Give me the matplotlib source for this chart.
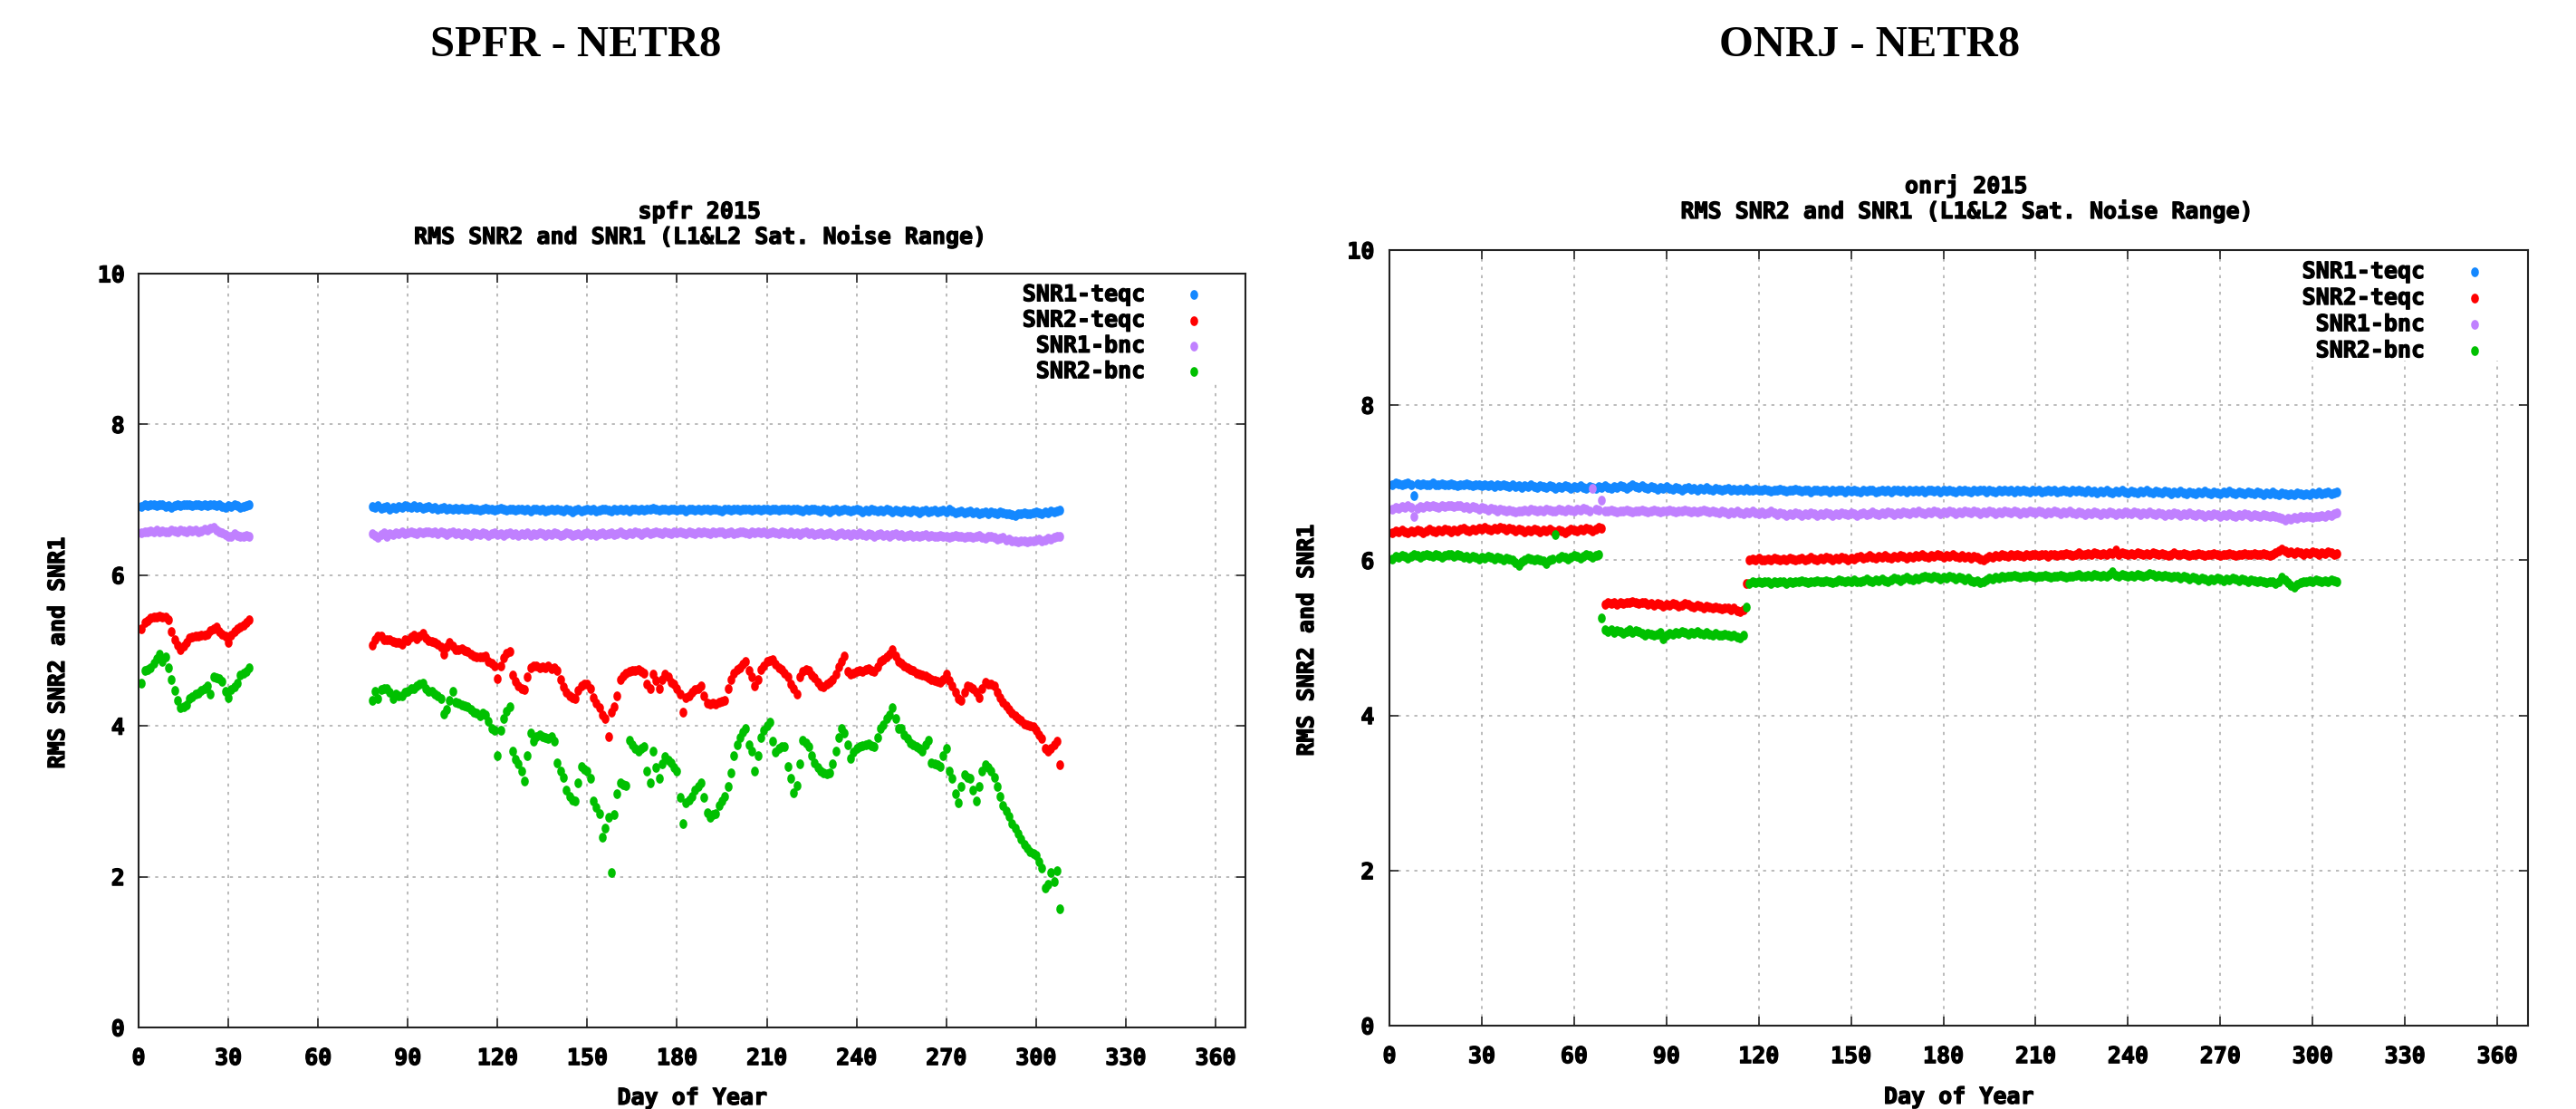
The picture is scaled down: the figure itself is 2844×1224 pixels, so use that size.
import numpy as np
import matplotlib
matplotlib.use("Agg")
import matplotlib.pyplot as plt
from matplotlib.patches import Rectangle
from matplotlib import patheffects

W, H, DPI = 2844, 1224, 100

SERIES = ["SNR1-teqc", "SNR2-teqc", "SNR1-bnc", "SNR2-bnc"]
COLORS = ["#1488ff", "#ff0000", "#c080ff", "#00c000"]
X_TICKS = list(range(0, 361, 30))
Y_TICKS = list(range(0, 11, 2))

# ---------------- SPFR 2015: two observing blocks ----------------
SPFR_START_A = 1
SPFR_START_B = 78

spfr_snr1_teqc_a = [6.91, 6.93, 6.92, 6.94, 6.93, 6.92, 6.94, 6.93, 6.91, 6.92,
                    6.90, 6.92, 6.93, 6.92, 6.93, 6.94, 6.93, 6.92, 6.93, 6.94,
                    6.92, 6.93, 6.92, 6.93, 6.94, 6.92, 6.93, 6.91, 6.90, 6.92,
                    6.91, 6.93, 6.92, 6.90, 6.91, 6.92, 6.93]
spfr_snr2_teqc_a = [5.29, 5.37, 5.40, 5.43, 5.44, 5.45, 5.46, 5.45, 5.44, 5.41,
                    5.25, 5.15, 5.07, 5.01, 5.06, 5.11, 5.17, 5.18, 5.19, 5.19,
                    5.20, 5.21, 5.22, 5.26, 5.29, 5.31, 5.25, 5.22, 5.19, 5.11,
                    5.21, 5.25, 5.29, 5.31, 5.34, 5.37, 5.41]
spfr_snr1_bnc_a = [6.56, 6.58, 6.57, 6.59, 6.58, 6.60, 6.58, 6.59, 6.57, 6.58,
                   6.60, 6.59, 6.58, 6.60, 6.59, 6.58, 6.60, 6.59, 6.60, 6.58,
                   6.59, 6.61, 6.60, 6.62, 6.63, 6.60, 6.58, 6.56, 6.54, 6.51,
                   6.52, 6.55, 6.53, 6.51, 6.52, 6.53, 6.52]
spfr_snr2_bnc_a = [4.57, 4.73, 4.75, 4.77, 4.83, 4.89, 4.95, 4.85, 4.91, 4.77,
                   4.61, 4.47, 4.34, 4.24, 4.26, 4.28, 4.36, 4.39, 4.42, 4.44,
                   4.47, 4.50, 4.53, 4.42, 4.65, 4.64, 4.63, 4.59, 4.46, 4.38,
                   4.48, 4.52, 4.57, 4.67, 4.70, 4.72, 4.77]

spfr_snr1_teqc_b = [6.91, 6.90, 6.92, 6.89, 6.90, 6.91, 6.88, 6.90, 6.89, 6.91,
                    6.90, 6.92, 6.91, 6.90, 6.92, 6.90, 6.91, 6.89, 6.90, 6.91,
                    6.89, 6.90, 6.88, 6.89, 6.90, 6.88, 6.89, 6.87, 6.89, 6.88,
                    6.89, 6.87, 6.88, 6.89, 6.87, 6.88, 6.86, 6.88, 6.89, 6.87,
                    6.88, 6.86, 6.87, 6.89, 6.88, 6.86, 6.87, 6.88, 6.86, 6.87,
                    6.88, 6.86, 6.87, 6.85, 6.87, 6.88, 6.86, 6.87, 6.85, 6.86,
                    6.87, 6.86, 6.88, 6.86, 6.85, 6.87, 6.86, 6.84, 6.86, 6.87,
                    6.85, 6.86, 6.88, 6.86, 6.87, 6.85, 6.86, 6.88, 6.87, 6.86,
                    6.85, 6.87, 6.86, 6.88, 6.86, 6.87, 6.85, 6.87, 6.88, 6.86,
                    6.87, 6.86, 6.88, 6.87, 6.89, 6.87, 6.86, 6.88, 6.87, 6.86,
                    6.88, 6.87, 6.86, 6.88, 6.87, 6.85, 6.87, 6.88, 6.86, 6.87,
                    6.86, 6.88, 6.87, 6.86, 6.87, 6.88, 6.86, 6.85, 6.87, 6.88,
                    6.86, 6.87, 6.88, 6.86, 6.87, 6.88, 6.87, 6.86, 6.88, 6.87,
                    6.86, 6.87, 6.88, 6.86, 6.87, 6.88, 6.86, 6.87, 6.88, 6.87,
                    6.86, 6.88, 6.87, 6.86, 6.85, 6.87, 6.86, 6.88, 6.87, 6.86,
                    6.85, 6.87, 6.86, 6.84, 6.86, 6.87, 6.85, 6.86, 6.87, 6.86,
                    6.85, 6.86, 6.87, 6.86, 6.84, 6.86, 6.85, 6.87, 6.86, 6.85,
                    6.86, 6.85, 6.87, 6.86, 6.84, 6.86, 6.85, 6.84, 6.86, 6.85,
                    6.84, 6.86, 6.85, 6.83, 6.85, 6.86, 6.84, 6.85, 6.86, 6.84,
                    6.85, 6.86, 6.84, 6.87, 6.85, 6.83, 6.84, 6.85, 6.83, 6.84,
                    6.85, 6.83, 6.84, 6.82, 6.83, 6.84, 6.82, 6.84, 6.83, 6.82,
                    6.84, 6.83, 6.81, 6.82, 6.80, 6.79, 6.81, 6.82, 6.83, 6.81,
                    6.82, 6.83, 6.84, 6.83, 6.82, 6.84, 6.83, 6.85, 6.84, 6.85,
                    6.86]
spfr_snr2_teqc_b = [5.07, 5.15, 5.19, 5.19, 5.15, 5.14, 5.15, 5.12, 5.11, 5.11,
                    5.08, 5.15, 5.13, 5.18, 5.20, 5.16, 5.19, 5.23, 5.17, 5.13,
                    5.12, 5.11, 5.09, 5.05, 4.95, 5.05, 5.11, 5.06, 5.01, 5.01,
                    5.03, 5.00, 4.99, 4.95, 4.93, 4.92, 4.91, 4.92, 4.93, 4.86,
                    4.83, 4.79, 4.63, 4.80, 4.90, 4.96, 4.99, 4.68, 4.59, 4.53,
                    4.50, 4.48, 4.65, 4.77, 4.79, 4.79, 4.77, 4.78, 4.77, 4.79,
                    4.76, 4.77, 4.74, 4.61, 4.52, 4.45, 4.40, 4.38, 4.36, 4.47,
                    4.53, 4.55, 4.56, 4.50, 4.37, 4.30, 4.24, 4.15, 4.10, 3.86,
                    4.18, 4.26, 4.40, 4.62, 4.66, 4.70, 4.72, 4.74, 4.73, 4.75,
                    4.72, 4.70, 4.55, 4.50, 4.69, 4.60, 4.50, 4.62, 4.69, 4.65,
                    4.58, 4.55, 4.50, 4.42, 4.18, 4.37, 4.40, 4.45, 4.48, 4.50,
                    4.53, 4.40, 4.30, 4.29, 4.30, 4.29, 4.31, 4.33, 4.34, 4.50,
                    4.62, 4.70, 4.75, 4.77, 4.82, 4.85, 4.73, 4.65, 4.53, 4.62,
                    4.75, 4.80, 4.85, 4.87, 4.88, 4.82, 4.77, 4.75, 4.70, 4.65,
                    4.56, 4.50, 4.42, 4.65, 4.72, 4.75, 4.73, 4.68, 4.64, 4.58,
                    4.53, 4.52, 4.55, 4.58, 4.62, 4.69, 4.78, 4.85, 4.93, 4.72,
                    4.69, 4.70, 4.72, 4.73, 4.72, 4.75, 4.76, 4.73, 4.72, 4.78,
                    4.85, 4.88, 4.91, 4.95, 5.01, 4.93, 4.86, 4.83, 4.80, 4.77,
                    4.75, 4.73, 4.70, 4.69, 4.67, 4.66, 4.64, 4.62, 4.60, 4.59,
                    4.58, 4.62, 4.69, 4.60, 4.53, 4.45, 4.36, 4.34, 4.45, 4.53,
                    4.52, 4.50, 4.45, 4.37, 4.50, 4.58, 4.56, 4.55, 4.53, 4.45,
                    4.38, 4.32, 4.27, 4.22, 4.17, 4.13, 4.10, 4.07, 4.03, 4.02,
                    4.00, 3.99, 3.94, 3.88, 3.83, 3.70, 3.67, 3.70, 3.75, 3.80,
                    3.49]
spfr_snr1_bnc_b = [6.55, 6.53, 6.50, 6.54, 6.56, 6.52, 6.55, 6.54, 6.56, 6.55,
                   6.57, 6.55, 6.56, 6.58, 6.56, 6.55, 6.57, 6.56, 6.58, 6.57,
                   6.56, 6.58, 6.55, 6.57, 6.56, 6.54, 6.56, 6.57, 6.55, 6.56,
                   6.54, 6.56, 6.55, 6.53, 6.56, 6.55, 6.54, 6.56, 6.55, 6.53,
                   6.55, 6.56, 6.54, 6.55, 6.53, 6.55, 6.56, 6.54, 6.55, 6.53,
                   6.55, 6.54, 6.56, 6.53, 6.55, 6.54, 6.56, 6.55, 6.53, 6.55,
                   6.54, 6.56, 6.55, 6.53, 6.54, 6.56, 6.55, 6.53, 6.54, 6.55,
                   6.53, 6.55, 6.56, 6.54, 6.55, 6.53, 6.55, 6.56, 6.54, 6.55,
                   6.56, 6.54, 6.55, 6.57, 6.55, 6.54, 6.56, 6.55, 6.57, 6.56,
                   6.54, 6.56, 6.57, 6.55, 6.56, 6.58, 6.56, 6.55, 6.57, 6.56,
                   6.55, 6.57, 6.56, 6.58, 6.56, 6.55, 6.57, 6.56, 6.55, 6.57,
                   6.56, 6.58, 6.56, 6.55, 6.57, 6.56, 6.58, 6.57, 6.55, 6.56,
                   6.57, 6.55, 6.56, 6.58, 6.57, 6.56, 6.55, 6.57, 6.56, 6.58,
                   6.56, 6.57, 6.55, 6.56, 6.58, 6.56, 6.55, 6.57, 6.56, 6.55,
                   6.57, 6.55, 6.56, 6.54, 6.56, 6.57, 6.55, 6.56, 6.54, 6.55,
                   6.56, 6.54, 6.55, 6.56, 6.54, 6.53, 6.55, 6.56, 6.54, 6.55,
                   6.53, 6.55, 6.54, 6.56, 6.54, 6.53, 6.55, 6.54, 6.52, 6.54,
                   6.55, 6.53, 6.54, 6.52, 6.54, 6.55, 6.53, 6.54, 6.52, 6.53,
                   6.54, 6.52, 6.53, 6.51, 6.53, 6.54, 6.52, 6.53, 6.51, 6.52,
                   6.53, 6.51, 6.52, 6.50, 6.52, 6.53, 6.51, 6.52, 6.50, 6.51,
                   6.52, 6.50, 6.51, 6.53, 6.50, 6.49, 6.51, 6.52, 6.50, 6.48,
                   6.49, 6.50, 6.47, 6.48, 6.46, 6.45, 6.44, 6.46, 6.45, 6.44,
                   6.46, 6.45, 6.47, 6.48, 6.46, 6.47, 6.49, 6.48, 6.50, 6.51,
                   6.52]
spfr_snr2_bnc_b = [4.34, 4.46, 4.36, 4.48, 4.50, 4.50, 4.45, 4.36, 4.42, 4.40,
                   4.40, 4.45, 4.46, 4.49, 4.50, 4.53, 4.56, 4.57, 4.50, 4.46,
                   4.46, 4.42, 4.40, 4.36, 4.16, 4.22, 4.34, 4.46, 4.32, 4.30,
                   4.28, 4.27, 4.26, 4.22, 4.18, 4.17, 4.14, 4.17, 4.15, 4.06,
                   3.97, 3.94, 3.60, 3.94, 4.10, 4.20, 4.26, 3.67, 3.56, 3.50,
                   3.40, 3.27, 3.60, 3.91, 3.80, 3.86, 3.88, 3.86, 3.85, 3.84,
                   3.86, 3.80, 3.51, 3.40, 3.32, 3.15, 3.06, 3.02, 3.00, 3.25,
                   3.46, 3.42, 3.40, 3.30, 3.00, 2.92, 2.84, 2.52, 2.65, 2.79,
                   2.06, 2.82, 3.10, 3.24, 3.22, 3.21, 3.81, 3.75, 3.70, 3.67,
                   3.70, 3.73, 3.40, 3.24, 3.67, 3.45, 3.30, 3.50, 3.59, 3.55,
                   3.51, 3.45, 3.40, 3.05, 2.70, 2.98, 3.02, 3.06, 3.15, 3.20,
                   3.24, 3.05, 2.85, 2.79, 2.82, 2.84, 2.95, 3.00, 3.06, 3.20,
                   3.38, 3.60, 3.75, 3.85, 3.92, 3.97, 3.75, 3.67, 3.40, 3.60,
                   3.85, 3.94, 4.00, 4.05, 3.80, 3.65, 3.70, 3.73, 3.73, 3.46,
                   3.30, 3.11, 3.21, 3.50, 3.81, 3.78, 3.73, 3.60, 3.51, 3.45,
                   3.40, 3.38, 3.36, 3.38, 3.50, 3.67, 3.85, 3.97, 3.91, 3.75,
                   3.57, 3.65, 3.70, 3.73, 3.74, 3.75, 3.76, 3.74, 3.73, 3.85,
                   3.97, 4.02, 4.10, 4.15, 4.24, 4.10, 3.97, 3.97, 3.88, 3.83,
                   3.78, 3.75, 3.72, 3.70, 3.67, 3.75, 3.81, 3.51, 3.50, 3.48,
                   3.46, 3.60, 3.70, 3.40, 3.30, 3.10, 2.98, 3.20, 3.35, 3.32,
                   3.30, 3.15, 3.00, 3.20, 3.40, 3.49, 3.45, 3.40, 3.32, 3.20,
                   3.06, 2.95, 2.87, 2.80, 2.71, 2.64, 2.57, 2.50, 2.43, 2.38,
                   2.33, 2.31, 2.28, 2.20, 2.12, 1.85, 1.90, 2.06, 1.93, 2.08,
                   1.58]

# ---------------- ONRJ 2015: one continuous block ----------------
ONRJ_START = 1

onrj_snr1_teqc = [6.98, 7.00, 6.99, 6.97, 6.99, 7.00, 6.98, 6.83, 6.99, 6.98,
                  6.99, 6.97, 6.98, 7.00, 6.98, 6.97, 6.99, 6.98, 6.97, 6.99,
                  6.98, 6.96, 6.98, 6.97, 6.99, 6.97, 6.96, 6.98, 6.97, 6.96,
                  6.98, 6.96, 6.97, 6.95, 6.97, 6.96, 6.98, 6.96, 6.95, 6.97,
                  6.95, 6.96, 6.94, 6.96, 6.95, 6.97, 6.95, 6.94, 6.96, 6.95,
                  6.94, 6.96, 6.95, 6.93, 6.95, 6.94, 6.96, 6.95, 6.93, 6.95,
                  6.94, 6.96, 6.94, 6.93, 6.95, 6.94, 6.93, 6.95, 6.94, 6.96,
                  6.94, 6.93, 6.95, 6.94, 6.96, 6.95, 6.93, 6.95, 6.97, 6.95,
                  6.94, 6.96, 6.94, 6.93, 6.95, 6.94, 6.92, 6.94, 6.93, 6.95,
                  6.93, 6.92, 6.94, 6.93, 6.91, 6.93, 6.94, 6.92, 6.93, 6.91,
                  6.93, 6.92, 6.94, 6.92, 6.91, 6.93, 6.92, 6.90, 6.92, 6.93,
                  6.91, 6.92, 6.90, 6.92, 6.91, 6.93, 6.91, 6.90, 6.92, 6.91,
                  6.90, 6.92, 6.91, 6.89, 6.91, 6.90, 6.92, 6.90, 6.89, 6.91,
                  6.90, 6.92, 6.90, 6.89, 6.91, 6.90, 6.88, 6.90, 6.91, 6.89,
                  6.91, 6.90, 6.88, 6.90, 6.89, 6.91, 6.90, 6.88, 6.90, 6.89,
                  6.91, 6.89, 6.88, 6.90, 6.89, 6.91, 6.90, 6.88, 6.89, 6.91,
                  6.89, 6.90, 6.88, 6.90, 6.91, 6.89, 6.90, 6.88, 6.90, 6.89,
                  6.91, 6.89, 6.90, 6.88, 6.90, 6.91, 6.89, 6.90, 6.88, 6.90,
                  6.89, 6.91, 6.89, 6.88, 6.90, 6.89, 6.91, 6.89, 6.88, 6.90,
                  6.89, 6.91, 6.90, 6.88, 6.90, 6.89, 6.88, 6.90, 6.89, 6.91,
                  6.89, 6.90, 6.88, 6.90, 6.89, 6.91, 6.89, 6.88, 6.90, 6.89,
                  6.90, 6.88, 6.89, 6.91, 6.89, 6.90, 6.88, 6.89, 6.91, 6.89,
                  6.88, 6.90, 6.89, 6.91, 6.89, 6.88, 6.90, 6.88, 6.89, 6.87,
                  6.89, 6.88, 6.90, 6.88, 6.87, 6.89, 6.88, 6.90, 6.88, 6.87,
                  6.89, 6.88, 6.87, 6.89, 6.88, 6.90, 6.88, 6.87, 6.89, 6.88,
                  6.87, 6.89, 6.88, 6.86, 6.88, 6.87, 6.89, 6.87, 6.86, 6.88,
                  6.87, 6.86, 6.88, 6.87, 6.89, 6.87, 6.86, 6.88, 6.87, 6.86,
                  6.88, 6.87, 6.89, 6.87, 6.86, 6.88, 6.87, 6.86, 6.88, 6.87,
                  6.86, 6.88, 6.87, 6.85, 6.87, 6.86, 6.88, 6.86, 6.85, 6.87,
                  6.86, 6.84, 6.86, 6.85, 6.87, 6.86, 6.84, 6.86, 6.85, 6.87,
                  6.86, 6.88, 6.86, 6.87, 6.88, 6.86, 6.87, 6.88]
onrj_snr2_teqc = [6.36, 6.38, 6.37, 6.39, 6.37, 6.36, 6.38, 6.37, 6.39, 6.38,
                  6.36, 6.38, 6.40, 6.38, 6.37, 6.39, 6.38, 6.40, 6.39, 6.37,
                  6.39, 6.38, 6.40, 6.41, 6.39, 6.38, 6.40, 6.39, 6.41, 6.40,
                  6.42, 6.40, 6.39, 6.41, 6.40, 6.42, 6.41, 6.39, 6.41, 6.40,
                  6.38, 6.40, 6.39, 6.37, 6.39, 6.38, 6.40, 6.39, 6.37, 6.39,
                  6.38, 6.40, 6.38, 6.37, 6.39, 6.38, 6.36, 6.38, 6.40, 6.39,
                  6.38, 6.40, 6.39, 6.41, 6.40, 6.38, 6.40, 6.42, 6.41, 5.43,
                  5.45, 5.44, 5.46, 5.43, 5.45, 5.44, 5.46, 5.45, 5.47, 5.45,
                  5.44, 5.46, 5.45, 5.43, 5.44, 5.42, 5.44, 5.43, 5.41, 5.43,
                  5.42, 5.44, 5.43, 5.41, 5.42, 5.44, 5.43, 5.41, 5.40, 5.42,
                  5.41, 5.39, 5.41, 5.40, 5.38, 5.40, 5.39, 5.37, 5.39, 5.38,
                  5.36, 5.38, 5.35, 5.34, 5.36, 5.70, 6.00, 6.02, 6.01, 6.03,
                  6.01, 6.00, 6.02, 6.01, 6.03, 6.02, 6.00, 6.02, 6.01, 6.03,
                  6.02, 6.00, 6.02, 6.03, 6.01, 6.02, 6.04, 6.02, 6.01, 6.03,
                  6.02, 6.04, 6.03, 6.01, 6.03, 6.02, 6.04, 6.03, 6.01, 6.03,
                  6.02, 6.04, 6.05, 6.03, 6.04, 6.06, 6.04, 6.03, 6.05, 6.04,
                  6.06, 6.04, 6.03, 6.05, 6.04, 6.06, 6.05, 6.03, 6.05, 6.04,
                  6.06, 6.05, 6.07, 6.05, 6.04, 6.06, 6.05, 6.07, 6.06, 6.04,
                  6.06, 6.05, 6.07, 6.05, 6.04, 6.06, 6.04, 6.05, 6.03, 6.05,
                  6.04, 6.02, 6.01, 6.03, 6.05, 6.04, 6.06, 6.05, 6.07, 6.06,
                  6.05, 6.07, 6.06, 6.08, 6.06, 6.05, 6.07, 6.06, 6.08, 6.07,
                  6.06, 6.08, 6.07, 6.05, 6.07, 6.08, 6.06, 6.08, 6.07, 6.09,
                  6.08, 6.06, 6.08, 6.10, 6.08, 6.07, 6.09, 6.08, 6.10, 6.09,
                  6.07, 6.09, 6.08, 6.10, 6.09, 6.13, 6.08, 6.10, 6.09, 6.07,
                  6.09, 6.08, 6.10, 6.09, 6.07, 6.09, 6.08, 6.10, 6.09, 6.07,
                  6.09, 6.08, 6.06, 6.08, 6.10, 6.08, 6.07, 6.09, 6.08, 6.06,
                  6.08, 6.07, 6.09, 6.08, 6.06, 6.08, 6.07, 6.09, 6.08, 6.06,
                  6.08, 6.07, 6.09, 6.08, 6.06, 6.08, 6.07, 6.09, 6.08, 6.07,
                  6.09, 6.08, 6.07, 6.09, 6.08, 6.06, 6.08, 6.10, 6.12, 6.14,
                  6.12, 6.10, 6.11, 6.09, 6.11, 6.10, 6.08, 6.10, 6.09, 6.11,
                  6.10, 6.08, 6.10, 6.09, 6.11, 6.10, 6.08, 6.09]
onrj_snr1_bnc = [6.66, 6.68, 6.67, 6.69, 6.68, 6.70, 6.68, 6.57, 6.67, 6.69,
                 6.68, 6.70, 6.69, 6.71, 6.69, 6.68, 6.70, 6.69, 6.71, 6.70,
                 6.69, 6.71, 6.70, 6.68, 6.69, 6.67, 6.69, 6.68, 6.66, 6.68,
                 6.67, 6.65, 6.67, 6.66, 6.64, 6.66, 6.65, 6.63, 6.65, 6.64,
                 6.62, 6.64, 6.63, 6.65, 6.64, 6.66, 6.65, 6.63, 6.65, 6.64,
                 6.66, 6.65, 6.63, 6.64, 6.66, 6.65, 6.64, 6.66, 6.65, 6.64,
                 6.66, 6.65, 6.67, 6.66, 6.64, 6.93, 6.66, 6.65, 6.78, 6.64,
                 6.63, 6.65, 6.64, 6.62, 6.64, 6.63, 6.65, 6.64, 6.62, 6.64,
                 6.63, 6.65, 6.64, 6.62, 6.63, 6.65, 6.64, 6.62, 6.64, 6.63,
                 6.65, 6.63, 6.62, 6.64, 6.63, 6.65, 6.63, 6.62, 6.64, 6.62,
                 6.63, 6.65, 6.63, 6.62, 6.64, 6.62, 6.61, 6.63, 6.62, 6.60,
                 6.62, 6.61, 6.63, 6.61, 6.60, 6.62, 6.61, 6.63, 6.61, 6.60,
                 6.62, 6.60, 6.61, 6.63, 6.61, 6.59, 6.61, 6.60, 6.58, 6.60,
                 6.59, 6.61, 6.60, 6.58, 6.60, 6.59, 6.61, 6.60, 6.58, 6.60,
                 6.59, 6.61, 6.60, 6.58, 6.60, 6.59, 6.61, 6.60, 6.59, 6.61,
                 6.60, 6.58, 6.60, 6.61, 6.59, 6.60, 6.62, 6.60, 6.59, 6.61,
                 6.60, 6.62, 6.61, 6.59, 6.61, 6.60, 6.62, 6.61, 6.60, 6.62,
                 6.61, 6.63, 6.61, 6.60, 6.62, 6.61, 6.63, 6.62, 6.60, 6.62,
                 6.61, 6.63, 6.62, 6.60, 6.62, 6.61, 6.63, 6.62, 6.61, 6.63,
                 6.62, 6.60, 6.62, 6.61, 6.63, 6.62, 6.60, 6.62, 6.61, 6.63,
                 6.62, 6.61, 6.63, 6.62, 6.60, 6.62, 6.61, 6.63, 6.62, 6.61,
                 6.63, 6.62, 6.60, 6.62, 6.61, 6.63, 6.62, 6.60, 6.62, 6.61,
                 6.63, 6.61, 6.60, 6.62, 6.61, 6.59, 6.61, 6.60, 6.62, 6.61,
                 6.59, 6.61, 6.60, 6.62, 6.61, 6.59, 6.61, 6.60, 6.62, 6.61,
                 6.60, 6.62, 6.61, 6.59, 6.61, 6.60, 6.62, 6.60, 6.59, 6.61,
                 6.60, 6.58, 6.60, 6.59, 6.61, 6.60, 6.58, 6.60, 6.59, 6.61,
                 6.59, 6.58, 6.60, 6.59, 6.57, 6.59, 6.58, 6.60, 6.59, 6.57,
                 6.59, 6.58, 6.60, 6.58, 6.57, 6.59, 6.58, 6.60, 6.59, 6.57,
                 6.59, 6.58, 6.57, 6.59, 6.58, 6.56, 6.58, 6.57, 6.55, 6.54,
                 6.52, 6.54, 6.53, 6.55, 6.54, 6.56, 6.55, 6.57, 6.56, 6.55,
                 6.57, 6.56, 6.58, 6.57, 6.59, 6.58, 6.60, 6.61]
onrj_snr2_bnc = [6.02, 6.05, 6.04, 6.06, 6.05, 6.03, 6.05, 6.07, 6.06, 6.04,
                 6.06, 6.08, 6.06, 6.05, 6.07, 6.06, 6.04, 6.06, 6.08, 6.07,
                 6.05, 6.07, 6.06, 6.04, 6.05, 6.03, 6.05, 6.04, 6.02, 6.04,
                 6.03, 6.05, 6.04, 6.02, 6.04, 6.03, 6.01, 6.03, 6.02, 6.00,
                 5.97, 5.94, 5.98, 6.01, 6.03, 6.02, 6.00, 6.02, 6.01, 5.99,
                 5.96, 6.00, 6.02, 6.33, 6.03, 6.05, 6.04, 6.02, 6.04, 6.06,
                 6.05, 6.03, 6.05, 6.07, 6.06, 6.04, 6.06, 6.08, 5.26, 5.10,
                 5.08, 5.10, 5.07, 5.09, 5.08, 5.06, 5.08, 5.10, 5.07, 5.09,
                 5.08, 5.06, 5.04, 5.06, 5.05, 5.03, 5.05, 5.07, 4.99, 5.04,
                 5.06, 5.05, 5.07, 5.06, 5.08, 5.07, 5.05, 5.07, 5.06, 5.08,
                 5.06, 5.05, 5.07, 5.05, 5.04, 5.06, 5.04, 5.03, 5.05, 5.04,
                 5.02, 5.04, 5.01, 5.00, 5.03, 5.40, 5.70, 5.72, 5.71, 5.73,
                 5.71, 5.73, 5.72, 5.70, 5.72, 5.71, 5.73, 5.72, 5.70, 5.72,
                 5.71, 5.73, 5.72, 5.74, 5.72, 5.71, 5.73, 5.72, 5.74, 5.73,
                 5.72, 5.74, 5.73, 5.71, 5.73, 5.75, 5.74, 5.72, 5.74, 5.73,
                 5.75, 5.73, 5.72, 5.74, 5.76, 5.74, 5.73, 5.75, 5.74, 5.76,
                 5.74, 5.73, 5.75, 5.77, 5.76, 5.74, 5.76, 5.78, 5.76, 5.75,
                 5.77, 5.76, 5.78, 5.80, 5.78, 5.77, 5.79, 5.78, 5.76, 5.78,
                 5.77, 5.79, 5.78, 5.76, 5.78, 5.77, 5.75, 5.77, 5.74, 5.72,
                 5.74, 5.71, 5.73, 5.75, 5.77, 5.76, 5.78, 5.77, 5.79, 5.78,
                 5.80, 5.79, 5.81, 5.79, 5.78, 5.80, 5.79, 5.81, 5.80, 5.78,
                 5.80, 5.79, 5.81, 5.79, 5.78, 5.80, 5.79, 5.81, 5.80, 5.78,
                 5.80, 5.79, 5.81, 5.82, 5.80, 5.79, 5.81, 5.80, 5.82, 5.81,
                 5.79, 5.81, 5.80, 5.82, 5.85, 5.81, 5.80, 5.82, 5.81, 5.79,
                 5.81, 5.80, 5.82, 5.81, 5.79, 5.81, 5.83, 5.82, 5.80, 5.81,
                 5.79, 5.81, 5.80, 5.78, 5.80, 5.79, 5.77, 5.79, 5.78, 5.76,
                 5.78, 5.77, 5.75, 5.77, 5.76, 5.74, 5.76, 5.75, 5.77, 5.76,
                 5.74, 5.76, 5.75, 5.77, 5.76, 5.74, 5.76, 5.75, 5.73, 5.75,
                 5.74, 5.72, 5.74, 5.73, 5.71, 5.73, 5.72, 5.70, 5.73, 5.78,
                 5.75, 5.71, 5.68, 5.66, 5.69, 5.71, 5.73, 5.72, 5.74, 5.73,
                 5.75, 5.74, 5.72, 5.74, 5.73, 5.75, 5.74, 5.73]

SPFR_BLOCKS = [
    (SPFR_START_A, [spfr_snr1_teqc_a, spfr_snr2_teqc_a, spfr_snr1_bnc_a, spfr_snr2_bnc_a]),
    (SPFR_START_B, [spfr_snr1_teqc_b, spfr_snr2_teqc_b, spfr_snr1_bnc_b, spfr_snr2_bnc_b]),
]
ONRJ_BLOCKS = [
    (ONRJ_START, [onrj_snr1_teqc, onrj_snr2_teqc, onrj_snr1_bnc, onrj_snr2_bnc]),
]

plt.rcParams["font.family"] = ["DejaVu Sans Mono"]
plt.rcParams["font.weight"] = "bold"
MONO = dict(family="DejaVu Sans Mono", weight="bold", size=18)
HEAVY = [patheffects.withStroke(linewidth=0.9, foreground="black")]

# slightly tall, rounded point shape
_t = np.linspace(0, 2 * np.pi, 17)
DOT = np.column_stack([0.8 * np.cos(_t), np.sin(_t)])
DOT_MS = 7.8


def fx(x):
    return x / W


def fy(y):
    return 1 - y / H


fig = plt.figure(figsize=(W / DPI, H / DPI), dpi=DPI)
fig.patch.set_facecolor("white")


def label(x, y, s, **kw):
    t = fig.text(fx(x), fy(y), s, path_effects=HEAVY, **MONO, **kw)
    return t


def panel(rect_px, blocks, station, head_y, xlab_y, ylab_x, tick_pad):
    x0, y0, x1, y1 = rect_px
    ax = fig.add_axes([fx(x0), fy(y1), (x1 - x0) / W, (y1 - y0) / H])
    for start, series in blocks:
        for vals, color in zip(series, COLORS):
            days = start + np.arange(len(vals))
            ax.plot(days, vals, linestyle="none", marker=DOT, ms=DOT_MS,
                    mec="none", color=color, zorder=3)
    ax.set_xlim(0, 370)
    ax.set_ylim(0, 10)
    ax.set_xticks(X_TICKS)
    ax.set_yticks(Y_TICKS)
    ax.grid(True, color="#a8a8a8", linestyle=(0, (2.2, 3.8)), linewidth=1.1)
    ax.tick_params(direction="in", length=7, width=1.2, top=True, right=True,
                   labelsize=18, color="#222222")
    ax.tick_params(axis="x", pad=tick_pad[0])
    ax.tick_params(axis="y", pad=tick_pad[1])
    for lab in ax.get_xticklabels() + ax.get_yticklabels():
        lab.set_fontweight("bold")
        lab.set_path_effects(HEAVY)
    for sp in ax.spines.values():
        sp.set_linewidth(1.5)
        sp.set_color("#222222")
        sp.set_zorder(4)

    # opaque key area hides the grid behind the entries
    ax.add_patch(Rectangle((0.79, 0.857), 0.21, 0.143, transform=ax.transAxes,
                           facecolor="white", edgecolor="none", zorder=2))
    key_y = [0.972, 0.938, 0.904, 0.870]
    for name, color, ky in zip(SERIES, COLORS, key_y):
        ax.text(0.909, ky, name, transform=ax.transAxes, ha="right",
                va="center", zorder=5, path_effects=HEAVY, **MONO)
        ax.plot([0.953], [ky], transform=ax.transAxes, linestyle="none",
                marker=DOT, ms=DOT_MS, mec="none", color=color, zorder=5,
                clip_on=False)

    cx = (x0 + x1) / 2 + 8
    label(cx, head_y, f"{station} 2015", ha="center", va="baseline")
    label(cx, head_y + 28, "RMS SNR2 and SNR1 (L1&L2 Sat. Noise Range)",
          ha="center", va="baseline")
    label((x0 + x1) / 2, xlab_y, "Day of Year", ha="center", va="baseline")
    label(ylab_x, (y0 + y1) / 2 + 3, "RMS SNR2 and SNR1", rotation=90,
          ha="center", va="center")
    return ax


panel((153, 302, 1375, 1134), SPFR_BLOCKS, "spfr", 241, 1219, 64, (16, 11))
panel((1534, 276, 2791, 1132), ONRJ_BLOCKS, "onrj", 213, 1218, 1443, (16, 12))

SERIF = dict(family="Liberation Serif", weight="bold", size=35)
fig.text(fx(636), fy(62), "SPFR - NETR8", ha="center", va="baseline", **SERIF)
fig.text(fx(2064), fy(62), "ONRJ - NETR8", ha="center", va="baseline", **SERIF)

fig.savefig("out.png", dpi=DPI, facecolor="white")
